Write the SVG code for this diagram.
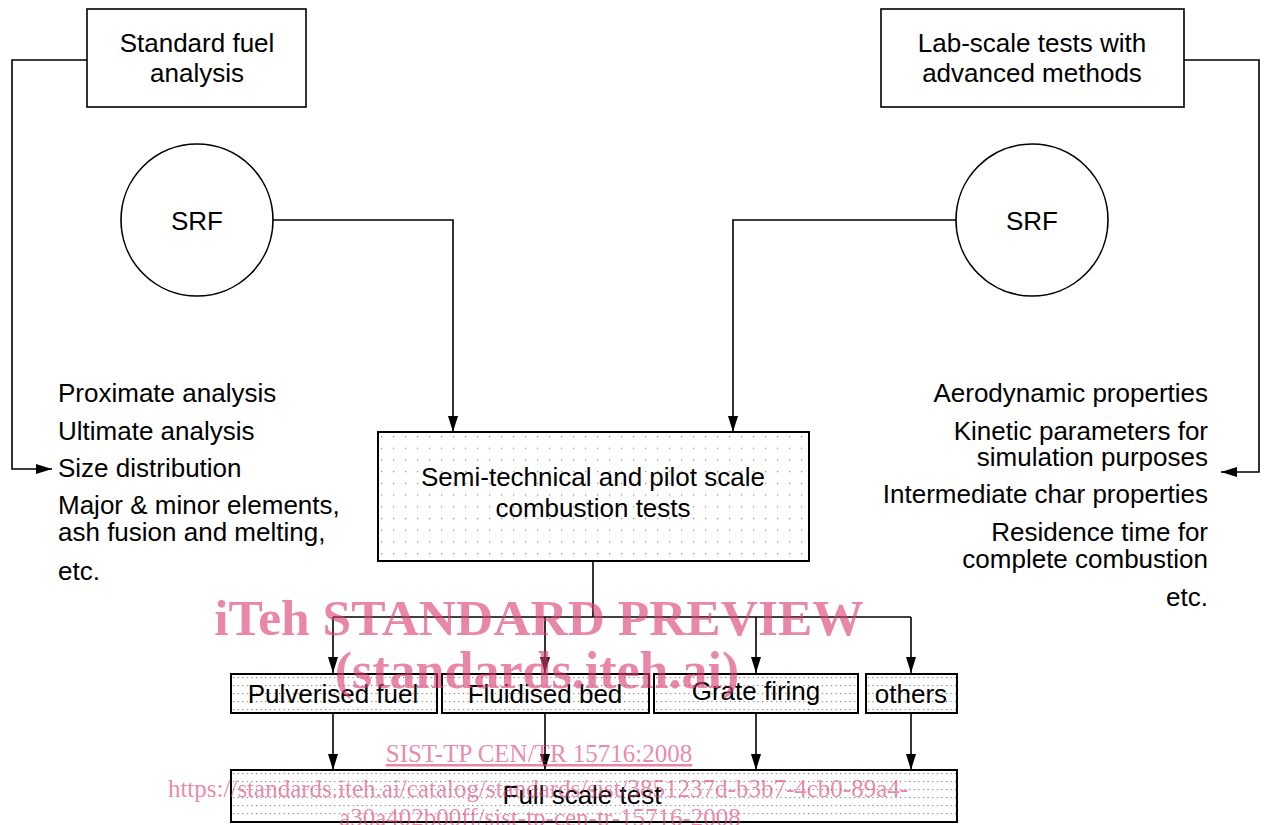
<svg xmlns="http://www.w3.org/2000/svg" width="1266" height="825" viewBox="0 0 1266 825">
  <style>
    .box { fill: #ffffff; stroke: #000; stroke-width: 1.6; }
    .dbig { fill: url(#dotsBig); stroke: #000; stroke-width: 2; }
    .dsmall { fill: url(#dotsSmall); stroke: #000; stroke-width: 2; }
    .circ { fill: #ffffff; stroke: #000; stroke-width: 1.6; }
    .t { font-family: "Liberation Sans", Arial, sans-serif; font-size: 26px; fill: #000; }
    .c { text-anchor: middle; }
    .e { text-anchor: end; }
    .con { fill: none; stroke: #000; stroke-width: 1.6; }
    .arr { marker-end: url(#ah); }
    .wm { font-family: "Liberation Serif", "Times New Roman", serif; fill: #dc3d72; fill-opacity: 0.62; text-anchor: middle; }
  </style>
  <defs>
    <marker id="ah" markerUnits="userSpaceOnUse" markerWidth="16" markerHeight="10" refX="16" refY="5" orient="auto">
      <path d="M0,0 L16,5 L0,10 z" fill="#000"/>
    </marker>
    <pattern id="dotsBig" patternUnits="userSpaceOnUse" x="381" y="436" width="12" height="11.7">
      <rect width="12" height="11.7" fill="#fff"/>
      <rect x="0" y="0" width="1.2" height="1.2" fill="#888"/>
    </pattern>
    <pattern id="dotsSmall" patternUnits="userSpaceOnUse" x="233" y="677" width="4.6" height="8">
      <rect width="4.6" height="8" fill="#fff"/>
      <rect x="0" y="0" width="1.1" height="1.1" fill="#777"/>
    </pattern>
  </defs>
  <rect width="1266" height="825" fill="#fff"/>

  <g id="connectors">
    <path class="con arr" d="M87,60 H12 V469 H52"/>
    <path class="con arr" d="M1184,60 H1259 V472 H1221"/>
    <path class="con arr" d="M273,220 H453 V432"/>
    <path class="con arr" d="M956,220 H733 V432"/>
    <path class="con" d="M593,561 V617"/>
    <path class="con" d="M333,617 H911"/>
    <path class="con arr" d="M333,617 V673"/>
    <path class="con arr" d="M545,617 V673"/>
    <path class="con arr" d="M756,617 V673"/>
    <path class="con arr" d="M911,617 V673"/>
    <path class="con arr" d="M333,713 V770"/>
    <path class="con arr" d="M545,713 V770"/>
    <path class="con arr" d="M756,713 V770"/>
    <path class="con arr" d="M911,713 V770"/>
  </g>

  <g id="std-fuel-analysis">
    <rect class="box" x="87" y="9" width="219" height="98"/>
    <text class="t c" x="197" y="52">Standard fuel</text>
    <text class="t c" x="197" y="82">analysis</text>
  </g>
  <g id="lab-scale-tests">
    <rect class="box" x="881" y="9" width="303" height="98"/>
    <text class="t c" x="1032" y="52">Lab-scale tests with</text>
    <text class="t c" x="1032" y="82">advanced methods</text>
  </g>
  <g id="srf-left">
    <circle class="circ" cx="197" cy="220" r="76"/>
    <text class="t c" x="197" y="230">SRF</text>
  </g>
  <g id="srf-right">
    <circle class="circ" cx="1032" cy="220" r="76"/>
    <text class="t c" x="1032" y="230">SRF</text>
  </g>
  <g id="left-list">
    <text class="t" x="58" y="402">Proximate analysis</text>
    <text class="t" x="58" y="440">Ultimate analysis</text>
    <text class="t" x="58" y="477">Size distribution</text>
    <text class="t" x="58" y="514">Major &amp; minor elements,</text>
    <text class="t" x="58" y="541">ash fusion and melting,</text>
    <text class="t" x="58" y="580">etc.</text>
  </g>
  <g id="right-list">
    <text class="t e" x="1208" y="402">Aerodynamic properties</text>
    <text class="t e" x="1208" y="440">Kinetic parameters for</text>
    <text class="t e" x="1208" y="466">simulation purposes</text>
    <text class="t e" x="1208" y="503">Intermediate char properties</text>
    <text class="t e" x="1208" y="541">Residence time for</text>
    <text class="t e" x="1208" y="568">complete combustion</text>
    <text class="t e" x="1208" y="606">etc.</text>
  </g>
  <g id="semi-technical">
    <rect class="dbig" x="378" y="432" width="431" height="129"/>
    <text class="t c" x="593" y="486">Semi-technical and pilot scale</text>
    <text class="t c" x="593" y="517">combustion tests</text>
  </g>
  <g id="pulverised-fuel">
    <rect class="dsmall" x="231" y="674" width="206" height="39"/>
    <text class="t c" x="333" y="703">Pulverised fuel</text>
  </g>
  <g id="fluidised-bed">
    <rect class="dsmall" x="442" y="674" width="207" height="39"/>
    <text class="t c" x="545" y="703">Fluidised bed</text>
  </g>
  <g id="grate-firing">
    <rect class="dsmall" x="654" y="674" width="204" height="39"/>
    <text class="t c" x="756" y="700">Grate firing</text>
  </g>
  <g id="others">
    <rect class="dsmall" x="866" y="674" width="91" height="39"/>
    <text class="t c" x="911" y="703">others</text>
  </g>
  <g id="full-scale-test">
    <rect class="dsmall" x="231" y="770" width="726" height="52"/>
    <text class="t c" x="582" y="804">Full scale test</text>
  </g>

  <g id="watermark">
    <text class="wm" x="539" y="635" font-size="51.5" font-weight="bold">iTeh STANDARD PREVIEW</text>
    <text class="wm" x="537" y="688" font-size="52" font-weight="bold">(standards.iteh.ai)</text>
    <text class="wm" x="539" y="762" font-size="25" text-decoration="underline">SIST-TP CEN/TR 15716:2008</text>
    <text class="wm" x="538" y="797" font-size="25">https://standards.iteh.ai/catalog/standards/sist/3851237d-b3b7-4cb0-89a4-</text>
    <text class="wm" x="540" y="826" font-size="25">a30a402b00ff/sist-tp-cen-tr-15716-2008</text>
  </g>
</svg>
